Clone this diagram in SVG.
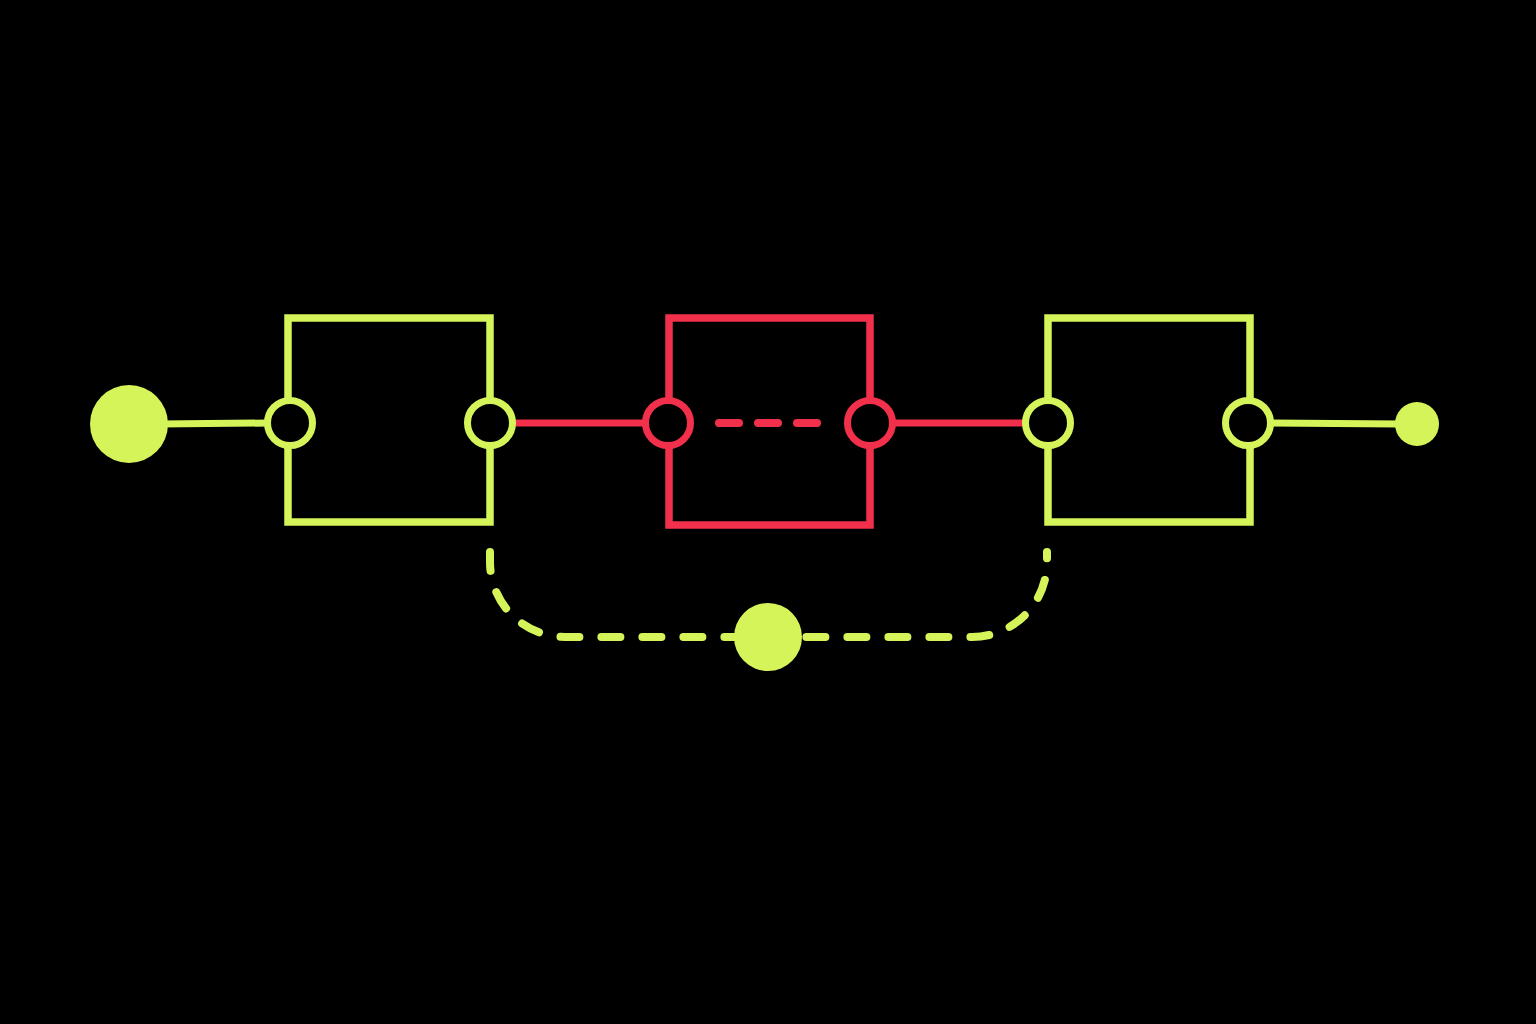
<svg xmlns="http://www.w3.org/2000/svg" width="1536" height="1024" viewBox="0 0 1536 1024">
<style>
.g{stroke:#d5f45a}
.r{stroke:#f2304b}
.box{fill:none;stroke-width:7.5;stroke-linejoin:miter}
.port{fill:#000;stroke-width:7}
.wire{fill:none;stroke-width:7;stroke-linecap:round}
.dash{fill:none;stroke-width:8;stroke-linecap:round;stroke-dasharray:19 22}
.dot{fill:#d5f45a}
</style>
<rect width="1536" height="1024" fill="#000"/>
<g id="connectors">
<line class="wire g" x1="160" y1="424" x2="268" y2="423"/>
<line class="wire r" x1="512" y1="423" x2="646" y2="423"/>
<line class="wire r" x1="892" y1="423" x2="1026" y2="423"/>
<line class="wire g" x1="1270" y1="423" x2="1400" y2="424"/>
<path class="dash r" d="M719 423 H823" style="stroke-dasharray:20 19"/>
<path class="dash g" d="M490 552 V562 A75 75 0 0 0 565 637 H972 A75 75 0 0 0 1047 562 V552"/>
</g>
<g id="start"><circle class="dot" cx="129" cy="424" r="39"/></g>
<g id="box1">
<rect class="box g" x="288" y="318" width="202" height="204"/>
<circle class="port g" cx="290" cy="423" r="22.5"/>
<circle class="port g" cx="490" cy="423" r="22.5"/>
</g>
<g id="box2">
<rect class="box r" x="669" y="318" width="201" height="207"/>
<circle class="port r" cx="668" cy="423" r="22.5"/>
<circle class="port r" cx="870" cy="423" r="22.5"/>
</g>
<g id="box3">
<rect class="box g" x="1048" y="318" width="202" height="204"/>
<circle class="port g" cx="1048" cy="423" r="22.5"/>
<circle class="port g" cx="1248" cy="423" r="22.5"/>
</g>
<g id="mid"><circle class="dot" cx="768" cy="637" r="34"/></g>
<g id="end"><circle class="dot" cx="1417" cy="424" r="22"/></g>
</svg>
